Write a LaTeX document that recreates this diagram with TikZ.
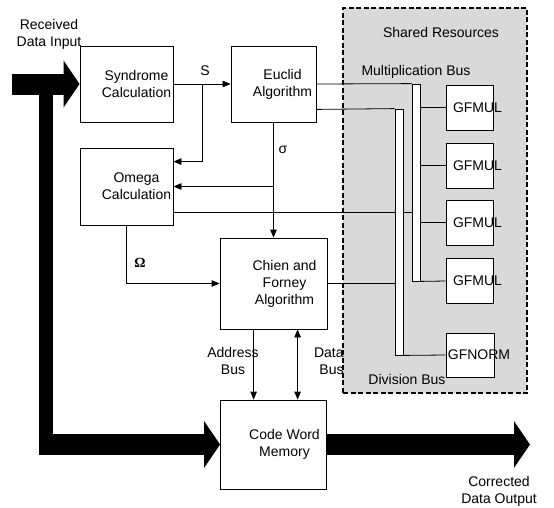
\documentclass[tikz,border=0pt]{standalone}
\usepackage{fontspec}
\setmainfont{Liberation Sans}
\newfontfamily\omfont{Liberation Serif}
\usetikzlibrary{arrows.meta,calc,positioning}

\tikzset{
  blk/.style={draw, fill=white},
  gfbox/.style={draw, fill=white, minimum width=47pt, minimum height=45pt},
  busbar/.style={draw, fill=white, minimum width=8pt},
  fatline/.style={line width=21pt, -{Triangle[length=16pt,width=46pt]}}
}

\begin{document}
\begin{tikzpicture}[x=1pt, y=-1pt, line width=0.8pt,
  >={Triangle[length=8pt,width=6.5pt]},
  every node/.style={font=\fontsize{14}{17}\selectfont, align=center, inner sep=0pt}]
\useasboundingbox (0,0) rectangle (554,507);

% shared resources
\node[draw, fill=gray!30, line width=1.4pt, dash pattern=on 5pt off 2.5pt,
  minimum width=184pt, minimum height=385pt] (shr) at (435,200.5) {};
\node (shr-t) at (441,32) {Shared Resources};
\node (mbus-t) at (416,72) {Multiplication Bus};
\node (dbus-t) at (407,379) {Division Bus};

% decoder blocks
\node[blk, minimum width=93pt, minimum height=76pt] (syn) at (126.5,84) {};
\node (syn-t) at ([xshift=10pt]syn.center) {Syndrome\\Calculation};
\node[blk, minimum width=85pt, minimum height=76pt] (euc) at (273.5,84) {};
\node (euc-t) at ([xshift=9pt]euc.center) {Euclid\\Algorithm};
\node[blk, minimum width=93pt, minimum height=77pt] (ome) at (126.5,186.5) {};
\node (ome-t) at ([xshift=10pt]ome.center) {Omega\\Calculation};
\node[blk, minimum width=107pt, minimum height=91pt] (chf) at (273.5,283.5) {};
\node (chf-t) at ([xshift=11pt]chf.center) {Chien and\\Forney\\Algorithm};
\node[blk, minimum width=106pt, minimum height=89pt] (mem) at (273.5,444.5) {};
\node (mem-t) at ([xshift=11pt]mem.center) {Code Word\\Memory};

% buses and units
\node[busbar, minimum height=197pt] (mbus) at (416,182.5) {};
\node[busbar, minimum height=246pt] (dbus) at (399,232) {};
\foreach \i/\y in {1/107.5,2/165.5,3/222.5,4/281} {
  \node[gfbox] (gfm\i) at (469.5,\y) {};
  \node (gfm\i-t) at ([xshift=8pt]gfm\i.center) {GFMUL};
}
\node[gfbox, minimum width=48pt, minimum height=44pt] (gfn) at (470,355) {};
\node (gfn-t) at ([xshift=9pt]gfn.center) {GFNORM};

\foreach \i in {1,2,3}
  \draw (gfm\i.west -| mbus.east) -- (gfm\i.west);
\draw (mbus.south east) -- (gfm4.west);
\draw (dbus.south east) -- (gfn.west);

% S
\draw[->] (syn.east) -- (euc.west);
\coordinate (sfork) at ($(syn.east)!0.5!(euc.west)$);
\draw[->] (sfork) |- ([yshift=-14pt]ome.north east);
\node (s-lbl) at (205,71) {S};

% sigma
\draw[->] (euc.south) -- (chf.north);
\draw[->] (euc.south |- ome.east) -- (ome.east);
\node (sig-lbl) at (283,150) {σ};

% omega
\draw[->] (ome.south) |- (chf.west);
\node (om-lbl) at (140,263) {\omfont\bfseries Ω};

% links to the buses
\draw (euc.east) -- (mbus.north west);
\coordinate (eucdiv) at ([yshift=13pt]euc.south east);
\draw (eucdiv) -- (dbus.north west);
\coordinate (omeout) at ([yshift=13pt]ome.south east);
\draw (omeout) -- (omeout -| dbus.west) (omeout -| dbus.east) -- (omeout -| mbus.west);
\draw (chf.east) -- (chf.east -| dbus.west);

% address and data bus
\coordinate (abus) at ([xshift=34pt]chf.south west);
\draw[->] (abus) -- (abus |- mem.north);
\coordinate (dtbus) at ([xshift=78pt]chf.south west);
\draw[<->] (dtbus) -- (dtbus |- mem.north);
\node (abus-t) at (233,361) {Address\\Bus};
\node[anchor=east, align=right] (dtbus-t) at (344,361) {Data\\Bus};

% data path
\coordinate (inp) at (12,84);
\draw[fatline] (inp) -- (syn.west);
\fill (39,94) rectangle (53,455);
\coordinate (trunk) at (39,444.5);
\draw[fatline] (trunk) -- (mem.west);
\coordinate (outp) at (530,444.5);
\draw[fatline] (mem.east) -- (outp);
\node (in-t) at (49,34) {Received\\Data Input};
\node (out-t) at (499,491) {Corrected\\Data Output};
\end{tikzpicture}
\end{document}
